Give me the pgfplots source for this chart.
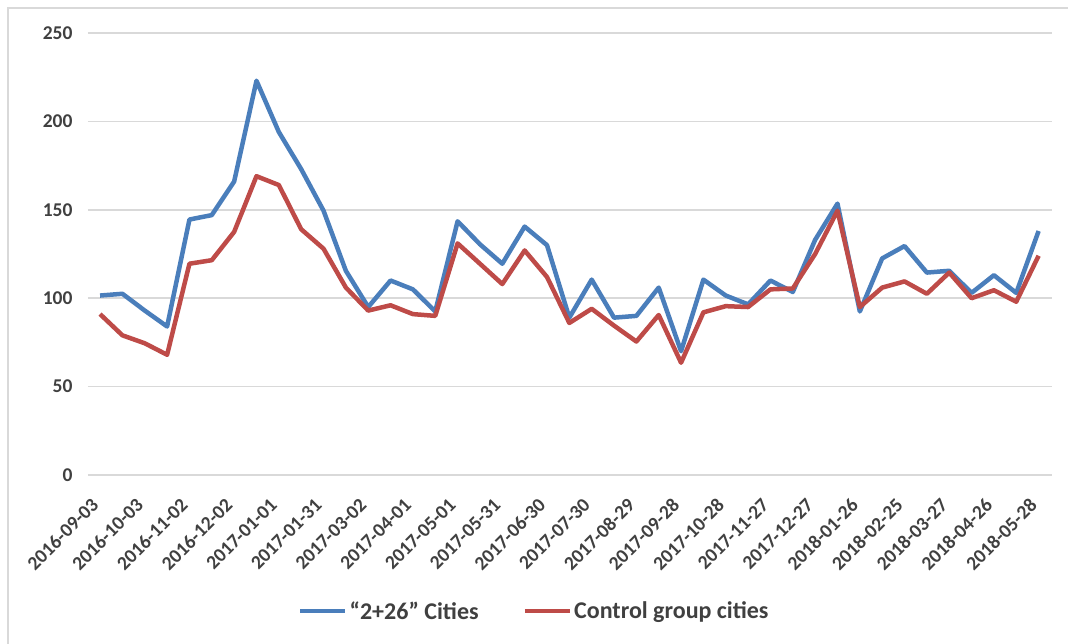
\documentclass[border=0pt]{standalone}
\usepackage{fontspec}
\setmainfont{Carlito}
\usepackage{pgfplots}
\usepackage{pgfplotstable}
\pgfplotsset{compat=1.18}
\definecolor{blueS}{HTML}{4A7EBB}
\definecolor{redS}{HTML}{BE4B48}
\definecolor{gridc}{HTML}{D9D9D9}
\definecolor{txt}{HTML}{404040}
\pgfplotstableread{
i blue red
0 101.5 91
1 102.5 79
2 93 74.5
3 84 68
4 144.5 119.5
5 147 121.5
6 166 137.5
7 223 169
8 194 164
9 173 139
10 149.5 128
11 115.5 106
12 95 93
13 110 96
14 105 91
15 92.5 90
16 143.5 131
17 130.5 119.5
18 119.5 108
19 140.5 127
20 130 112
21 89 86
22 110.5 94
23 89 84.5
24 90 75.5
25 106 90.5
26 70 63.5
27 110.5 92
28 101.5 95.5
29 96.5 95
30 110 105
31 103.5 105.5
32 133 125
33 153.5 149.5
34 92.5 95
35 122.5 106
36 129.5 109.5
37 114.5 102.5
38 115.5 114.5
39 103 100
40 113 104.5
41 103 98
42 138 124
}\datatable
\begin{document}
\begin{tikzpicture}[x=1pt,y=1pt]
\useasboundingbox (0,0) rectangle (1068,643);
\fill[white] (0,0) rectangle (1068,643);
\draw[gridc, line width=1.5pt] (8,-5) -- (8,635) -- (1075,635);
\begin{axis}[
  at={(88pt,168pt)}, anchor=south west,
  scale only axis, width=964pt, height=442pt,
  xmin=-0.54, xmax=42.6, ymin=0, ymax=250,
  axis line style={draw=none}, major tick length=0pt,
  ytick={0,50,...,250}, ymajorgrids,
  grid style={gridc, line width=1.5pt},
  xtick={0,2,...,42},
  xticklabels={2016-09-03,2016-10-03,2016-11-02,2016-12-02,2017-01-01,2017-01-31,2017-03-02,2017-04-01,2017-05-01,2017-05-31,2017-06-30,2017-07-30,2017-08-29,2017-09-28,2017-10-28,2017-11-27,2017-12-27,2018-01-26,2018-02-25,2018-03-27,2018-04-26,2018-05-28},
  /pgf/number format/assume math mode=true,
  tick label style={font=\fontsize{19.5}{22}\selectfont\bfseries, text=txt},
  yticklabel style={xshift=-12pt},
  xticklabel style={xshift=-5pt, yshift=-27pt, rotate=45, anchor=east, inner sep=0pt},
  legend style={at={(0.463,-0.308)}, anchor=center, draw=none, fill=none,
    legend columns=2, font=\fontsize{24}{27}\selectfont\bfseries, text=txt,
    /tikz/every even column/.append style={column sep=42pt}},
  legend cell align=left,
  legend image code/.code={\draw[#1] (0pt,0pt) -- (45pt,0pt);},
]
\addplot[blueS, line width=4.5pt, line join=round] table[x=i, y=blue] {\datatable};
\addplot[redS, line width=4.5pt, line join=round] table[x=i, y=red] {\datatable};
\legend{“2+26” Cities, Control group cities}
\end{axis}
\end{tikzpicture}
\end{document}
